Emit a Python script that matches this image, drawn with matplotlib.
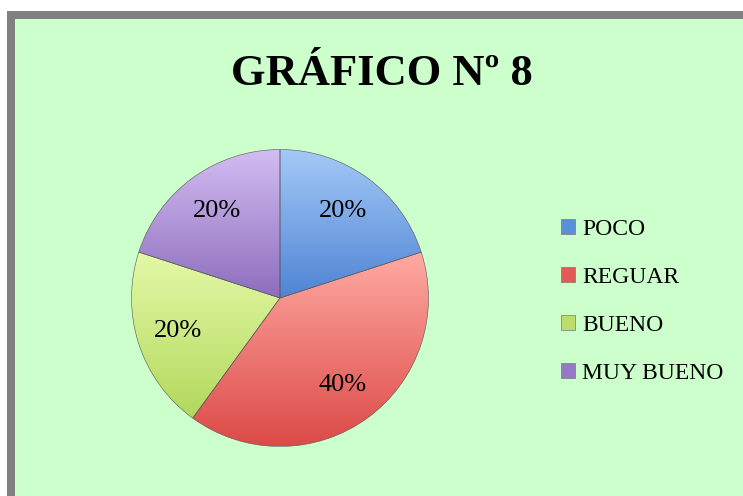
import numpy as np
import matplotlib
matplotlib.use('Agg')
import matplotlib.pyplot as plt
from matplotlib.patches import Rectangle

labels = ['POCO', 'REGUAR', 'BUENO', 'MUY BUENO']
values = [20, 40, 20, 20]
top_colors = ['#a4c9f8', '#ffaaa3', '#e4f9a8', '#d2bdf2']
bot_colors = ['#4f84d3', '#dc4a48', '#b3d85c', '#8e6dbd']
legend_colors = ['#5a8fd9', '#e25a58', '#bcdc6c', '#9479c4']

W, H = 743, 496
fig = plt.figure(figsize=(W / 100, H / 100), dpi=100)
fig.patch.set_facecolor('white')


def fx(px):
    return px / W


def fy(py):
    return 1 - py / H


# frame: gray border on top/left, green fill
fig.patches.append(Rectangle((fx(7), -0.1), 1.2, fy(11) + 0.1, transform=fig.transFigure,
                             facecolor='#808080', edgecolor='none', zorder=-2))
fig.patches.append(Rectangle((fx(15), -0.1), 1.2, fy(19) + 0.1, transform=fig.transFigure,
                             facecolor='#ccffcc', edgecolor='none', zorder=-1))

fig.text(fx(382), fy(85), 'GRÁFICO Nº 8', ha='center', va='baseline',
         fontsize=32, fontweight='bold', family='Liberation Serif')

cx, cy, r = 280, 298, 150
ax = fig.add_axes([fx(cx - r), fy(cy + r), 2 * r / W, 2 * r / H])
ax.set_facecolor('none')
wedges, _, autotexts = ax.pie(values, startangle=90, counterclock=False,
                              colors=legend_colors, radius=0.99,
                              autopct='%1.0f%%', pctdistance=0.72,
                              wedgeprops=dict(edgecolor='#555555', linewidth=0.4))

# vertical gradient in each slice, over the slice's own height
for w, c1, c2 in zip(wedges, top_colors, bot_colors):
    a = np.array(matplotlib.colors.to_rgb(c1))
    b = np.array(matplotlib.colors.to_rgb(c2))
    t = np.linspace(0, 1, 200)[:, None]
    grad = (a * (1 - t) + b * t)[:, None, :].repeat(2, axis=1)
    bb = w.get_path().get_extents()
    im = ax.imshow(grad, extent=(bb.x0, bb.x1, bb.y0, bb.y1), aspect='auto',
                   zorder=w.get_zorder() + 0.1, interpolation='bilinear')
    im.set_clip_path(w)
    w.set_facecolor('none')
    w.set_zorder(w.get_zorder() + 0.2)

ax.set_xlim(-1, 1)
ax.set_ylim(-1, 1)
ax.set_aspect('auto')
ax.axis('off')

for t in autotexts:
    t.set_fontsize(19)
    t.set_family('Liberation Serif')
    t.set_zorder(5)

handles = [Rectangle((0, 0), 1, 1, facecolor=c, edgecolor='#777777', linewidth=0.5)
           for c in legend_colors]
leg = fig.legend(handles, labels, loc='upper left', bbox_to_anchor=(fx(549), fy(207)),
                 frameon=False, handlelength=0.6, handleheight=0.6, handletextpad=0.3,
                 labelspacing=1.15, borderpad=0,
                 prop={'family': 'Liberation Serif', 'size': 17})

fig.savefig('out.png', dpi=100, facecolor=fig.get_facecolor())
